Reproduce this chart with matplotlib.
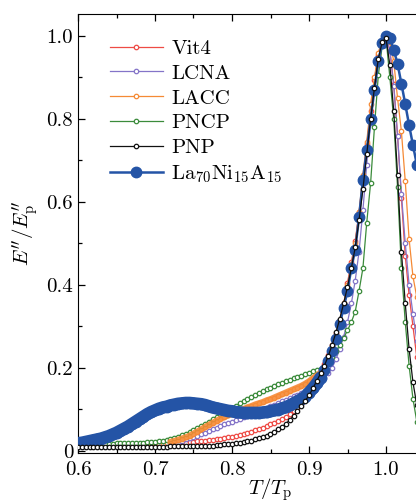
import numpy as np
import matplotlib
matplotlib.use("Agg")
import matplotlib.pyplot as plt
from matplotlib.ticker import MultipleLocator

plt.rcParams["font.family"] = "serif"
plt.rcParams["font.serif"] = ["cmr10"]
plt.rcParams["mathtext.fontset"] = "cm"
plt.rcParams["axes.formatter.use_mathtext"] = True

# T/Tp grid, step 0.005 from 0.600 to 1.040
t = np.round(0.6 + 0.005 * np.arange(89), 3)

la70 = [0.018, 0.019, 0.021, 0.023, 0.025, 0.027, 0.029, 0.032, 0.035, 0.039,
        0.043, 0.048, 0.053, 0.058, 0.064, 0.070, 0.076, 0.082, 0.088, 0.093,
        0.097, 0.101, 0.104, 0.106, 0.109, 0.111, 0.113, 0.114, 0.115, 0.115,
        0.114, 0.113, 0.112, 0.110, 0.107, 0.104, 0.102, 0.100, 0.098, 0.096,
        0.095, 0.093, 0.092, 0.091, 0.091, 0.091, 0.091, 0.091, 0.092, 0.093,
        0.095, 0.097, 0.099, 0.102, 0.105, 0.109, 0.114, 0.119, 0.124, 0.130,
        0.140, 0.150, 0.162, 0.176, 0.195, 0.216, 0.240, 0.268, 0.305, 0.345,
        0.385, 0.440, 0.485, 0.563, 0.652, 0.725, 0.800, 0.870, 0.940, 0.982,
        1.000, 0.995, 0.967, 0.933, 0.885, 0.836, 0.785, 0.737, 0.690]

pnp = [0.008, 0.008, 0.008, 0.008, 0.008, 0.008, 0.008, 0.008, 0.008, 0.008,
       0.008, 0.008, 0.008, 0.009, 0.009, 0.009, 0.009, 0.009, 0.009, 0.009,
       0.009, 0.009, 0.009, 0.009, 0.010, 0.010, 0.010, 0.010, 0.010, 0.010,
       0.010, 0.011, 0.011, 0.011, 0.012, 0.012, 0.013, 0.014, 0.015, 0.016,
       0.017, 0.018, 0.019, 0.020, 0.022, 0.024, 0.027, 0.030, 0.033, 0.036,
       0.040, 0.045, 0.051, 0.057, 0.065, 0.074, 0.084, 0.095, 0.108, 0.120,
       0.133, 0.150, 0.168, 0.186, 0.205, 0.228, 0.255, 0.285, 0.318, 0.355,
       0.395, 0.440, 0.490, 0.555, 0.630, 0.715, 0.800, 0.875, 0.945, 0.985,
       0.995, 0.930, 0.820, 0.665, 0.480, 0.355, 0.245, 0.165, 0.110]

vit4 = [0.010, 0.010, 0.010, 0.010, 0.010, 0.010, 0.010, 0.010, 0.010, 0.011,
        0.011, 0.011, 0.011, 0.011, 0.011, 0.011, 0.011, 0.012, 0.012, 0.012,
        0.012, 0.013, 0.014, 0.015, 0.016, 0.017, 0.017, 0.018, 0.019, 0.020,
        0.021, 0.022, 0.023, 0.024, 0.025, 0.026, 0.027, 0.028, 0.030, 0.032,
        0.034, 0.036, 0.038, 0.040, 0.043, 0.046, 0.049, 0.052, 0.055, 0.059,
        0.063, 0.067, 0.071, 0.076, 0.081, 0.088, 0.095, 0.103, 0.113, 0.125,
        0.138, 0.153, 0.170, 0.188, 0.208, 0.230, 0.255, 0.283, 0.315, 0.352,
        0.405, 0.455, 0.505, 0.575, 0.655, 0.740, 0.820, 0.895, 0.955, 0.990,
        1.000, 0.965, 0.885, 0.760, 0.610, 0.470, 0.375, 0.300, 0.225]

lcna = [0.010, 0.010, 0.010, 0.010, 0.010, 0.010, 0.010, 0.010, 0.010, 0.010,
        0.010, 0.010, 0.010, 0.010, 0.011, 0.011, 0.011, 0.011, 0.011, 0.012,
        0.012, 0.013, 0.014, 0.015, 0.017, 0.019, 0.021, 0.024, 0.027, 0.030,
        0.033, 0.036, 0.040, 0.043, 0.047, 0.051, 0.055, 0.059, 0.063, 0.066,
        0.070, 0.073, 0.077, 0.080, 0.084, 0.088, 0.091, 0.095, 0.099, 0.103,
        0.107, 0.111, 0.115, 0.119, 0.123, 0.127, 0.131, 0.135, 0.139, 0.143,
        0.147, 0.152, 0.158, 0.165, 0.174, 0.186, 0.200, 0.220, 0.245, 0.275,
        0.310, 0.355, 0.410, 0.480, 0.580, 0.690, 0.790, 0.875, 0.945, 0.985,
        1.000, 0.965, 0.880, 0.760, 0.620, 0.500, 0.400, 0.330, 0.265]

lacc = [0.010, 0.010, 0.010, 0.010, 0.010, 0.010, 0.010, 0.010, 0.010, 0.010,
        0.010, 0.010, 0.011, 0.011, 0.011, 0.012, 0.012, 0.013, 0.013, 0.014,
        0.015, 0.016, 0.017, 0.019, 0.021, 0.023, 0.026, 0.029, 0.032, 0.036,
        0.041, 0.046, 0.051, 0.057, 0.062, 0.067, 0.072, 0.077, 0.081, 0.085,
        0.089, 0.093, 0.097, 0.100, 0.104, 0.107, 0.111, 0.114, 0.117, 0.121,
        0.124, 0.128, 0.132, 0.136, 0.140, 0.144, 0.148, 0.152, 0.156, 0.161,
        0.167, 0.174, 0.181, 0.188, 0.197, 0.222, 0.248, 0.280, 0.315, 0.355,
        0.400, 0.450, 0.500, 0.575, 0.665, 0.745, 0.835, 0.900, 0.960, 0.990,
        1.000, 0.985, 0.940, 0.850, 0.770, 0.650, 0.510, 0.420, 0.370]

pncp = [0.016, 0.016, 0.016, 0.016, 0.017, 0.017, 0.017, 0.017, 0.017, 0.017,
        0.018, 0.018, 0.018, 0.018, 0.018, 0.019, 0.019, 0.019, 0.020, 0.020,
        0.021, 0.022, 0.024, 0.026, 0.028, 0.031, 0.034, 0.037, 0.041, 0.045,
        0.049, 0.054, 0.059, 0.064, 0.070, 0.076, 0.082, 0.088, 0.093, 0.098,
        0.103, 0.108, 0.114, 0.119, 0.124, 0.129, 0.134, 0.139, 0.143, 0.148,
        0.152, 0.156, 0.160, 0.163, 0.167, 0.170, 0.174, 0.177, 0.181, 0.184,
        0.188, 0.191, 0.195, 0.198, 0.202, 0.212, 0.225, 0.240, 0.255, 0.272,
        0.290, 0.310, 0.335, 0.385, 0.440, 0.550, 0.645, 0.780, 0.905, 0.975,
        0.995, 0.900, 0.800, 0.635, 0.440, 0.310, 0.205, 0.125, 0.070]

names = ["Vit4", "LCNA", "LACC", "PNCP", "PNP"]
colors = ["#ee4b45", "#8474c8", "#f58a35", "#3b8b3b", "#111111"]
series = [vit4, lcna, lacc, pncp, pnp]
blue = "#2454a6"

fig = plt.figure(figsize=(4.16, 5.04), dpi=100)
# axes runs past the right edge of the figure, like the cropped original
ax = fig.add_axes([0.1875, 0.101, 0.5 * 770 / 416, 0.872])

handles = {}
for name, col, y in zip(names[:4], colors[:4], series[:4]):
    h, = ax.plot(t, y, "-o", color=col, lw=0.9, ms=3.2, mfc="white",
                 mec=col, mew=0.9, zorder=2)
    handles[name] = h

# the dense, noisy parts of LACC and La70 read as thick bands
lo = (t >= 0.72) & (t <= 0.92)
ax.plot(t[lo], np.array(lacc)[lo], color=colors[2], lw=4.5, alpha=0.9,
        solid_capstyle="round", zorder=2)
lo = t <= 0.915
ax.plot(t[lo], np.array(la70)[lo], color=blue, lw=9,
        solid_capstyle="round", zorder=3)
hb, = ax.plot(t, la70, "-o", color=blue, lw=1.8, ms=7.5, mec=blue,
              zorder=3)
hk, = ax.plot(t, pnp, "-o", color=colors[4], lw=0.9, ms=3.2, mfc="white",
              mec=colors[4], mew=0.9, zorder=4)
handles["PNP"] = hk

leg_h = [handles[n] for n in names] + [hb]
leg_l = names + [r"La$_{70}$Ni$_{15}$A$_{15}$"]
ax.legend(leg_h, leg_l, loc="upper left", bbox_to_anchor=(0.05, 0.97),
          frameon=False, fontsize=15, handlelength=2.55, handletextpad=0.4,
          labelspacing=0.3, borderaxespad=0.2)

ax.set_xlim(0.6, 1.1)
ax.set_ylim(-0.006, 1.054)
ax.xaxis.set_minor_locator(MultipleLocator(0.05))
ax.yaxis.set_minor_locator(MultipleLocator(0.1))
ax.set_xticks([0.6, 0.7, 0.8, 0.9, 1.0])
ax.set_xticklabels(["0.6", "0.7", "0.8", "0.9", "1.0"])
ax.set_yticks([0, 0.2, 0.4, 0.6, 0.8, 1.0])
ax.set_yticklabels(["0", "0.2", "0.4", "0.6", "0.8", "1.0"])
ax.tick_params(which="both", direction="in", top=True, right=False,
               labelsize=15, width=0.9)
ax.tick_params(axis="x", pad=6)
ax.tick_params(which="major", length=5)
ax.tick_params(which="minor", length=3)
ax.spines["right"].set_visible(False)

ax.set_xlabel(r"$T/T_{\mathrm{p}}$", fontsize=15, labelpad=-2)
ax.set_ylabel(r"$E^{\prime\prime}/E^{\prime\prime}_{\mathrm{p}}$",
              fontsize=15, labelpad=4)

fig.savefig("out.png", dpi=100)
